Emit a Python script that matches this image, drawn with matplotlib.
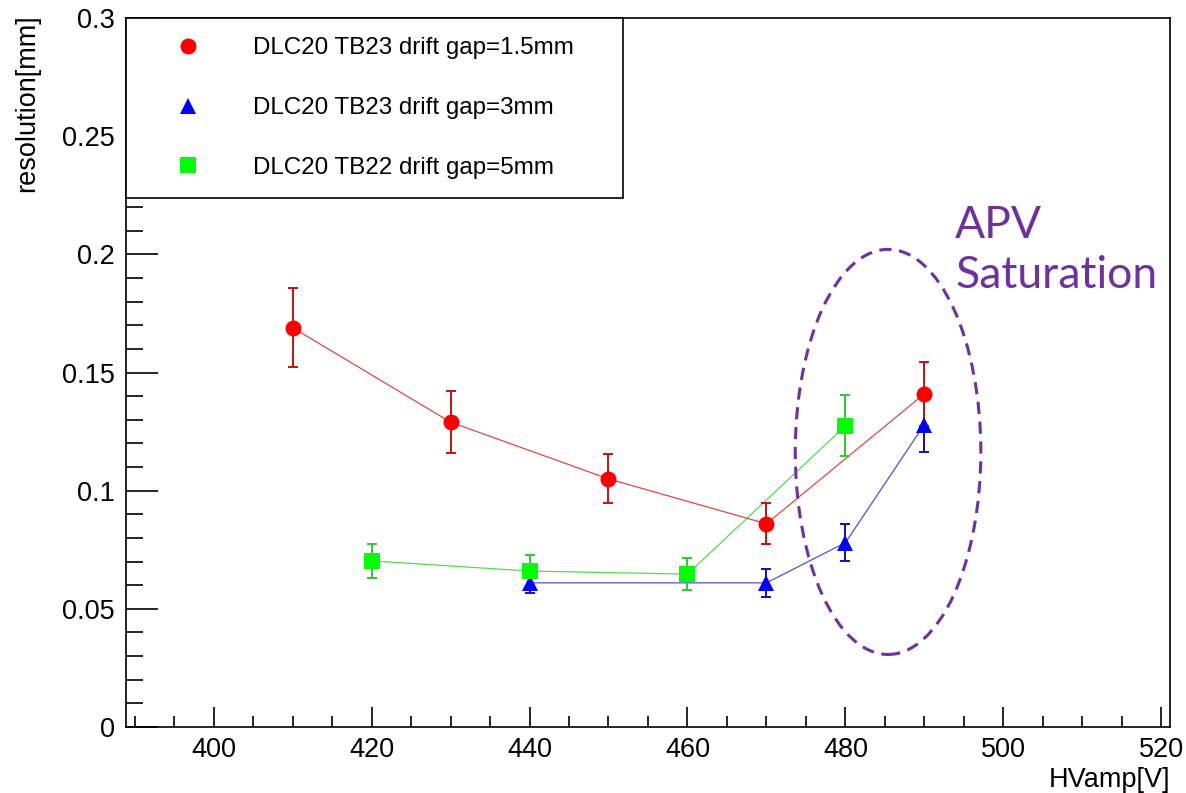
import matplotlib
matplotlib.use("Agg")
import matplotlib.pyplot as plt
from matplotlib.lines import Line2D
from matplotlib.patches import Ellipse
from matplotlib.ticker import MultipleLocator, FuncFormatter

# --- Data -------------------------------------------------------------------
hv_15 = [410, 430, 450, 470, 490]
res_15 = [0.169, 0.129, 0.105, 0.086, 0.141]
err_15 = [0.0167, 0.013, 0.0104, 0.0087, 0.0135]

hv_3 = [440, 470, 480, 490]
res_3 = [0.061, 0.061, 0.078, 0.128]
err_3 = [0.0045, 0.006, 0.0078, 0.0115]

hv_5 = [420, 440, 460, 480]
res_5 = [0.0703, 0.066, 0.0647, 0.1274]
err_5 = [0.0072, 0.0068, 0.0068, 0.0129]

labels = ["DLC20 TB23 drift gap=1.5mm",
          "DLC20 TB23 drift gap=3mm",
          "DLC20 TB22 drift gap=5mm"]

plt.rcParams["font.family"] = ["Liberation Sans", "DejaVu Sans"]

fig = plt.figure(figsize=(11.86, 7.93), dpi=100)
ax = fig.add_axes([0.1062, 0.0832, 0.8803, 0.8941])

# --- Series (blue first, then green, red on top) ----------------------------
def draw(x, y, e, marker, mcol, ecol, lcol, ms):
    ax.plot(x, y, "-", color=lcol, lw=0.9, zorder=2)
    ax.errorbar(x, y, yerr=e, fmt="none", ecolor=ecol, elinewidth=1.4,
                capsize=3.5, capthick=1.4, zorder=3)
    ax.plot(x, y, linestyle="none", marker=marker, color=mcol, ms=ms,
            markeredgewidth=0, zorder=4)

draw(hv_3, res_3, err_3, "^", "#0000ff", "#1010c0", "#5050d8", 11.5)
draw(hv_5, res_5, err_5, "s", "#00ff00", "#30c830", "#50dd50", 11)
draw(hv_15, res_15, err_15, "o", "#ff0000", "#c81010", "#e04848", 11.5)

# --- APV saturation annotation ----------------------------------------------
ax.add_patch(Ellipse((485.4, 0.1164), 23.5, 0.1714, fill=False,
                     edgecolor="#7030a0", lw=2.2, linestyle=(0, (4, 2.5)),
                     zorder=5))
ax.text(493.9, 0.221, "APV\nSaturation", color="#7030a0",
        family=["Lato", "DejaVu Sans"], fontsize=32, ha="left", va="top",
        linespacing=1.28)

# --- Axes styling (ROOT look) -----------------------------------------------
ax.set_xlim(388.9, 521.1)
ax.set_ylim(0, 0.3)
ax.xaxis.set_major_locator(MultipleLocator(20))
ax.xaxis.set_minor_locator(MultipleLocator(5))
ax.yaxis.set_major_locator(MultipleLocator(0.05))
ax.yaxis.set_minor_locator(MultipleLocator(0.01))
ax.yaxis.set_major_formatter(FuncFormatter(lambda v, p: "%g" % round(v, 3)))

ax.tick_params(which="both", direction="in", top=False, right=False,
               width=1.2, labelsize=19.5)
ax.tick_params(axis="x", which="major", length=14.5, pad=7)
ax.tick_params(axis="x", which="minor", length=8)
ax.tick_params(axis="y", which="major", length=23, pad=8)
ax.tick_params(axis="y", which="minor", length=12)
for sp in ax.spines.values():
    sp.set_linewidth(1.2)

ax.set_xlabel("HVamp[V]", fontsize=19.5, loc="right")
ax.xaxis.set_label_coords(1.0, -0.056)
ax.set_ylabel("resolution[mm]", fontsize=19.5, loc="top")
ax.yaxis.set_label_coords(-0.0825, 1.005)

# --- Legend -----------------------------------------------------------------
handles = [
    Line2D([], [], linestyle="none", marker="o", color="#ff0000", ms=11.5, markeredgewidth=0),
    Line2D([], [], linestyle="none", marker="^", color="#0000ff", ms=11.5, markeredgewidth=0),
    Line2D([], [], linestyle="none", marker="s", color="#00ff00", ms=11, markeredgewidth=0),
]
leg = ax.legend(handles, labels, loc="upper left",
                bbox_to_anchor=(0, 0.752, 0.476, 0.248), mode="expand",
                fontsize=17.4, frameon=True, fancybox=False, framealpha=1,
                edgecolor="black", borderpad=0.8, labelspacing=1.56,
                handlelength=3.56, handletextpad=0.89, borderaxespad=0)
leg.get_frame().set_linewidth(1.2)

fig.savefig("out.png", dpi=100)
